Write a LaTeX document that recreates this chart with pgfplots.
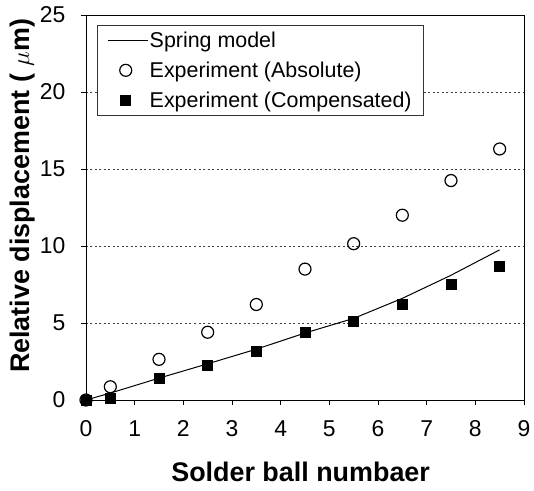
\documentclass[border=0pt]{standalone}
\usepackage{fontspec}
\setmainfont{Liberation Sans}
\usepackage{pgfplots}
\pgfplotsset{compat=1.18}
\pgfplotsset{
  linelegend/.style={legend image code/.code={\draw[##1] (0bp,0bp) -- (40bp,0bp);}},
  marklegend/.style={legend image code/.code={\draw[##1] plot coordinates {(18bp,0bp)};}},
}
\begin{document}
\begin{tikzpicture}
\begin{axis}[
  at={(0,0)}, anchor=south west,
  scale only axis,
  width=438bp, height=385bp,
  xmin=0, xmax=9, ymin=0, ymax=25,
  xtick={0,1,...,9}, ytick={0,5,...,25},
  tick align=outside,
  major tick length=5bp,
  tick style={black, line width=0.8bp},
  xtick pos=bottom, ytick pos=left,
  axis line style={line width=0.9bp},
  /pgf/number format/assume math mode=true,
  tick label style={font=\fontsize{23}{27}\selectfont},
  xticklabel style={yshift=-12bp},
  yticklabel style={xshift=-12bp},
  ymajorgrids=true,
  grid style={dash pattern=on 2bp off 2.5bp, black!75, line width=0.7bp},
  xlabel={\bfseries Solder ball numbaer},
  ylabel={\bfseries Relative displacement ( $\mu$m)},
  label style={font=\fontsize{27}{31}\selectfont},
  xlabel style={at={(rel axis cs:0.49,-0.187)}, anchor=center},
  ylabel style={at={(rel axis cs:-0.146,0.53)}, anchor=center},
  legend style={at={(rel axis cs:0.025,0.974)}, anchor=north west,
    font=\fontsize{21.5}{25}\selectfont, draw=black!80, line width=0.6bp,
    fill=white, row sep=10bp, inner xsep=10bp, inner ysep=5bp,
    nodes={inner sep=1.5bp}},
  legend cell align=left,
]
\addplot[black, line width=1bp, no markers, linelegend]
  coordinates {(0,0) (0.5,0.45) (1.5,1.42) (2.5,2.35) (3.5,3.3) (4.5,4.35) (5.5,5.3) (6.5,6.6) (7.5,8.1) (8.5,9.75)};
\addlegendentry{Spring model}
\addplot[only marks, mark=o, mark size=6bp, black, line width=1.2bp, marklegend]
  coordinates {(0,0) (0.5,0.86) (1.5,2.64) (2.5,4.4) (3.5,6.2) (4.5,8.5) (5.5,10.15) (6.5,12.0) (7.5,14.25) (8.5,16.3)};
\addlegendentry{Experiment (Absolute)}
\addplot[only marks, mark=square*, mark size=5bp, black, marklegend]
  coordinates {(0,0) (0.5,0.1) (1.5,1.4) (2.5,2.25) (3.5,3.2) (4.5,4.4) (5.5,5.1) (6.5,6.25) (7.5,7.5) (8.5,8.7)};
\addlegendentry{Experiment (Compensated)}
\end{axis}
\pgfresetboundingbox
\path[use as bounding box] (-86bp,-91bp) rectangle (448bp,400bp);
\end{tikzpicture}
\end{document}
